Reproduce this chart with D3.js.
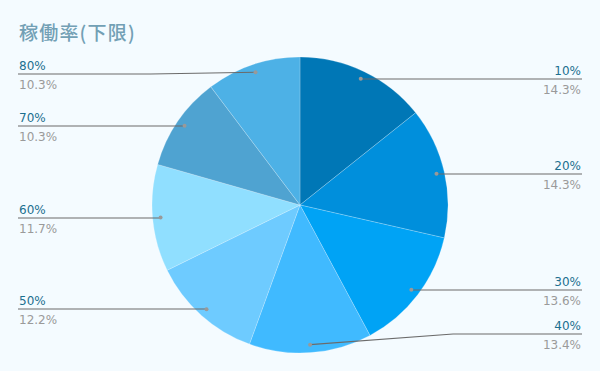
<!DOCTYPE html>
<html><head><meta charset="utf-8">
<script src="https://cdn.jsdelivr.net/npm/d3@7"></script>
<style>html,body{margin:0;padding:0;background:#f4fbff;}svg{display:block;}</style>
</head><body>
<svg id="c" width="600" height="371"></svg>
<script>
const title = "稼働率(下限)";
const categories = ["10%","20%","30%","40%","50%","60%","70%","80%"];
const values = [14.3,14.3,13.6,13.4,12.2,11.7,10.3,10.3];
const colors = ["#0077b6","#008fdc","#00a3f5","#40baff","#6ecbff","#90dfff","#4fa3d1","#4db1e6"];

const W=600,H=371, cx=300, cy=205, R=148;
const svg=d3.select("#c");
svg.append("rect").attr("width",W).attr("height",H).attr("fill","#f4fbff");
svg.append("text").attr("x",19).attr("y",40).text(title)
  .attr("font-family","'Noto Sans CJK JP',sans-serif").attr("font-size",19).attr("font-weight",500)
  .attr("letter-spacing",1.2).attr("fill","#72a0b5");

const data=categories.map((c,i)=>({name:c,value:values[i],color:colors[i]}));
const pie=d3.pie().value(d=>d.value).sort(null);
const arcs=pie(data);
const arc=d3.arc().innerRadius(0).outerRadius(R);
const g=svg.append("g").attr("transform",`translate(${cx},${cy})`);
g.selectAll("path").data(arcs).join("path").attr("d",arc).attr("fill",d=>d.data.color)
  .attr("stroke","rgba(255,255,255,0.35)").attr("stroke-width",0.6);

const dotArc=d3.arc().innerRadius(140).outerRadius(140);
const yMin=74, yMax=334;
const lab=svg.append("g");
arcs.forEach(a=>{
  const [px,py]=dotArc.centroid(a);
  const x=cx+px, y=cy+py;
  const right=((a.startAngle+a.endAngle)/2)<Math.PI;
  const ly=Math.max(yMin,Math.min(yMax,Math.round(y)));
  const edge= right?582:18;
  const bend = Math.abs(ly-y)>1 ? (right? x+143 : x-105) : x;
  lab.append("polyline").attr("points",`${x},${y} ${bend},${ly} ${edge},${ly}`)
    .attr("fill","none").attr("stroke","#6b6b6b").attr("stroke-width",1.2);
  lab.append("circle").attr("cx",x).attr("cy",y).attr("r",2).attr("fill","#999");
  const tx= right?581:19, anchor= right?"end":"start";
  lab.append("text").attr("x",tx).attr("y",ly-4).attr("text-anchor",anchor).text(a.data.name)
    .attr("font-family","'DejaVu Sans',sans-serif").attr("font-size",12).attr("fill","#1c6f8f");
  lab.append("text").attr("x",tx).attr("y",ly+15).attr("text-anchor",anchor).text(a.data.value.toFixed(1)+"%")
    .attr("font-family","'DejaVu Sans',sans-serif").attr("font-size",12).attr("fill","#9a9a9a");
});
</script>
</body></html>
